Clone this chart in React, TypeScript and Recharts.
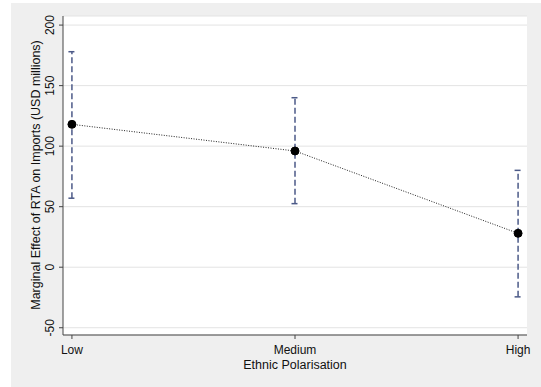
import React from "react";
import { LineChart, Line, XAxis, YAxis, CartesianGrid, ErrorBar } from "recharts";

const categories = ["Low", "Medium", "High"];
const effect = [118, 96, 28];
const ciLower = [57, 52.5, -24.5];
const ciUpper = [178, 140, 80];
const yTicks = [-50, 0, 50, 100, 150, 200];

const data = categories.map((c, i) => ({
  pos: i,
  name: c,
  effect: effect[i],
  err: [effect[i] - ciLower[i], ciUpper[i] - effect[i]],
}));

const FONT = "'Liberation Sans', Arial, Helvetica, sans-serif";

const YTick = (props: any) => {
  const { x, y, payload } = props;
  const tx = x - 3;
  return (
    <text x={tx} y={y} transform={`rotate(-90 ${tx} ${y})`} textAnchor="middle" fontSize={12} fill="#111" fontFamily={FONT}>
      {payload.value}
    </text>
  );
};

const XTick = (props: any) => {
  const { x, y, payload } = props;
  return (
    <text x={x} y={y} dy={9} textAnchor="middle" fontSize={12} fill="#111" fontFamily={FONT}>
      {categories[payload.value]}
    </text>
  );
};

const App: React.FC = () => {
  return (
    <div style={{ position: "absolute", left: 0, top: 0, width: 541, height: 387, background: "#fff" }}>
      <div style={{ position: "absolute", left: 11, top: 3, width: 530, height: 384, background: "#efefef" }}>
        <LineChart width={530} height={384} data={data} margin={{ top: 13, right: 14, bottom: 0, left: 0 }}>
          <CartesianGrid vertical={false} stroke="#e3e3e3" fill="#fff" />
          <XAxis
            dataKey="pos"
            type="number"
            domain={[-0.04, 2.04]}
            ticks={[0, 1, 2]}
            height={52}
            tickSize={4}
            tickMargin={6}
            stroke="#444"
            tick={<XTick />}
            allowDataOverflow
          />
          <YAxis
            type="number"
            domain={[-56, 207.5]}
            ticks={yTicks}
            width={52}
            tickSize={4}
            tickMargin={2}
            stroke="#444"
            tick={<YTick />}
            allowDataOverflow
          />
          <Line
            dataKey="effect"
            stroke="#222"
            strokeWidth={1}
            strokeDasharray="1 1.5"
            dot={{ r: 4, fill: "#000", stroke: "#000", strokeWidth: 1, strokeDasharray: "" }}
            isAnimationActive={false}
          >
            <ErrorBar dataKey="err" width={3.5} stroke="#4c5a88" strokeWidth={1.5} strokeDasharray="6 3" direction="y" />
          </Line>
          <text x={28.5} y={172} transform="rotate(-90 28.5 172)" textAnchor="middle" fontSize={12.5} fill="#111" fontFamily={FONT}>
            Marginal Effect of RTA on Imports (USD millions)
          </text>
          <text x={284} y={366} textAnchor="middle" fontSize={12.5} fill="#111" fontFamily={FONT}>
            Ethnic Polarisation
          </text>
        </LineChart>
      </div>
    </div>
  );
};

export default App;
